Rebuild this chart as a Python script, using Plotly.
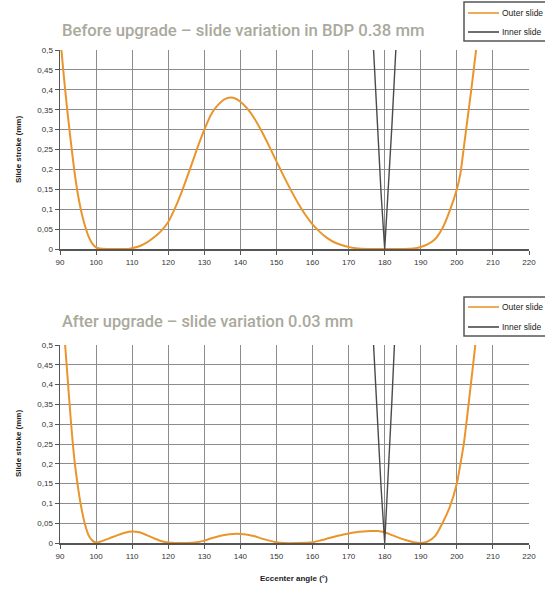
import plotly.graph_objects as go

W, H = 545, 590

# ---------------- data ----------------
x_ticks = [90, 100, 110, 120, 130, 140, 150, 160, 170, 180, 190, 200, 210, 220]
x_tick_labels = [str(v) for v in x_ticks]
y_ticks = [0, 0.05, 0.1, 0.15, 0.2, 0.25, 0.3, 0.35, 0.4, 0.45, 0.5]
y_tick_labels = ["0", "0,05", "0,1", "0,15", "0,2", "0,25", "0,3", "0,35", "0,4", "0,45", "0,5"]

before_outer_angle = [90, 91, 92, 93, 94, 95, 96, 97, 98, 99, 100, 101, 103, 105, 107, 109, 110,
                      112, 114, 116, 118, 120, 122, 124, 126, 128, 130, 132, 134, 136, 138,
                      140, 142, 144, 146, 148, 150, 152, 154, 156, 158, 160, 162, 164, 166, 168,
                      170, 172, 175, 180, 185, 188, 190, 192, 194, 196, 198, 200, 201, 202, 203,
                      204, 205, 206]
before_outer_stroke = [0.54, 0.44, 0.35, 0.27, 0.195, 0.135, 0.09, 0.056, 0.03, 0.013, 0.004, 0.001,
                       0.0, 0.0, 0.0, 0.0, 0.002,
                       0.007, 0.016, 0.029, 0.045, 0.068, 0.105, 0.15, 0.2, 0.252, 0.3, 0.34,
                       0.364, 0.378, 0.38,
                       0.37, 0.352, 0.326, 0.294, 0.258, 0.22, 0.183, 0.148, 0.115, 0.086,
                       0.062, 0.043, 0.028, 0.017, 0.01,
                       0.005, 0.002, 0.0, 0.0, 0.0, 0.001, 0.005, 0.012, 0.025, 0.052, 0.095,
                       0.15, 0.19, 0.26, 0.33,
                       0.40, 0.475, 0.55]

before_inner_angle = [176.8, 178.0, 179.0, 180.0, 181.0, 182.0, 183.2]
before_inner_stroke = [0.52, 0.30, 0.14, 0.0, 0.15, 0.31, 0.52]

after_outer_angle = [90, 91, 92, 93, 94, 95, 96, 97, 98, 99, 100, 102, 104, 106, 108, 110, 112,
                     114, 116, 118, 120, 122, 125, 128, 130, 132, 134, 136, 138, 140, 142, 144,
                     146, 148, 150, 152, 156, 160, 162, 164, 166, 168, 170, 172, 174, 176, 178,
                     180, 182, 184, 186, 188, 190, 192, 194, 196, 198, 200, 201, 202, 203, 204,
                     205, 206]
after_outer_stroke = [0.66, 0.55, 0.43, 0.31, 0.21, 0.14, 0.085, 0.045, 0.018, 0.006, 0.001,
                      0.006, 0.013, 0.02, 0.026, 0.029, 0.027,
                      0.02, 0.012, 0.005, 0.001, 0.0, 0.0, 0.002, 0.006, 0.012, 0.017, 0.021,
                      0.023, 0.023, 0.021, 0.017,
                      0.011, 0.006, 0.002, 0.0, 0.0, 0.002, 0.006, 0.011, 0.016, 0.02, 0.024,
                      0.027, 0.029, 0.03, 0.03,
                      0.027, 0.02, 0.013, 0.007, 0.002, 0.0, 0.004, 0.018, 0.05, 0.09, 0.15,
                      0.2, 0.255, 0.33, 0.41,
                      0.49, 0.58]

after_inner_angle = [176.8, 178.0, 179.0, 180.0, 181.0, 182.0, 182.8]
after_inner_stroke = [0.52, 0.30, 0.14, 0.0, 0.17, 0.36, 0.52]

titles = ["Before upgrade – slide variation in BDP 0.38 mm",
          "After upgrade – slide variation 0.03 mm"]
legend_names = ["Outer slide", "Inner slide"]
y_title = "Slide stroke (mm)"
x_title = "Eccenter angle (°)"

# ---------------- style ----------------
ORANGE = "#EA952B"
DARK = "#4a4a4a"
GRID = "#8c8c8c"
AXIS = "#555555"
TITLE_C = "#A9A99C"


def px(x):
    return x / W


def py(y):
    return 1 - y / H


fig = go.Figure()

fig.add_trace(go.Scatter(x=before_outer_angle, y=before_outer_stroke, mode="lines",
                         line=dict(color=ORANGE, width=2, shape="spline", smoothing=0.6),
                         xaxis="x", yaxis="y", showlegend=False, name=legend_names[0]))
fig.add_trace(go.Scatter(x=before_inner_angle, y=before_inner_stroke, mode="lines",
                         line=dict(color=DARK, width=1.4),
                         xaxis="x", yaxis="y", showlegend=False, name=legend_names[1]))
fig.add_trace(go.Scatter(x=after_outer_angle, y=after_outer_stroke, mode="lines",
                         line=dict(color=ORANGE, width=2, shape="spline", smoothing=0.6),
                         xaxis="x2", yaxis="y2", showlegend=False, name=legend_names[0]))
fig.add_trace(go.Scatter(x=after_inner_angle, y=after_inner_stroke, mode="lines",
                         line=dict(color=DARK, width=1.4),
                         xaxis="x2", yaxis="y2", showlegend=False, name=legend_names[1]))

tickfont = dict(family="Liberation Sans, Arial, sans-serif", size=8, color="#333333")

xcommon = dict(range=[90, 220], tickvals=x_ticks, ticktext=x_tick_labels,
               showgrid=True, gridcolor=GRID, gridwidth=1, zeroline=False,
               showline=True, linecolor=AXIS, linewidth=2,
               ticks="outside", ticklen=4, tickcolor=AXIS, tickwidth=1,
               tickfont=tickfont, fixedrange=True, automargin=False)
ycommon = dict(range=[0, 0.5], tickvals=y_ticks, ticktext=y_tick_labels,
               showgrid=True, gridcolor=GRID, gridwidth=1, zeroline=False,
               showline=True, linecolor=AXIS, linewidth=1.5,
               ticks="outside", ticklen=4, tickcolor=AXIS, tickwidth=1,
               tickfont=tickfont, fixedrange=True, automargin=False)

xdom = [px(60), px(529)]
fig.update_layout(
    template="none",
    width=W, height=H,
    margin=dict(l=0, r=0, t=0, b=0, pad=0),
    paper_bgcolor="white", plot_bgcolor="white",
    showlegend=False,
    xaxis=dict(domain=xdom, anchor="y", **xcommon),
    yaxis=dict(domain=[py(249), py(50)], anchor="x", **ycommon),
    xaxis2=dict(domain=xdom, anchor="y2", **xcommon),
    yaxis2=dict(domain=[py(543), py(345)], anchor="x2", **ycommon),
)

annotations = []
shapes = []

# titles
for t, yc, fs in zip(titles, [31, 322], [16.7, 16.4]):
    annotations.append(dict(text=t, x=px(60), y=py(yc), xref="paper", yref="paper",
                            xanchor="left", yanchor="middle", showarrow=False,
                            font=dict(family="Roboto", size=fs, color=TITLE_C, weight=500)))

# y titles
for yc in [150, 444]:
    annotations.append(dict(text=y_title, x=px(18), y=py(yc), xref="paper", yref="paper",
                            xanchor="center", yanchor="middle", showarrow=False, textangle=-90,
                            font=dict(family="Liberation Sans, Arial", size=8, color="#222222",
                                      weight="bold")))

# x title
annotations.append(dict(text=x_title, x=px(294), y=py(578), xref="paper", yref="paper",
                        xanchor="center", yanchor="middle", showarrow=False,
                        font=dict(family="Liberation Sans, Arial", size=8, color="#222222",
                                  weight="bold")))

# legends (boxes partly outside the page, as in the reference)
for top, bot, l1, l2 in [(2, 41, 13, 32), (297, 336, 307, 327)]:
    shapes.append(dict(type="rect", xref="paper", yref="paper",
                       x0=px(464), x1=px(580), y0=py(bot), y1=py(top),
                       line=dict(color="#555555", width=1.5), fillcolor="white"))
    for ly, col, name in [(l1, ORANGE, legend_names[0]), (l2, DARK, legend_names[1])]:
        shapes.append(dict(type="line", xref="paper", yref="paper",
                           x0=px(468), x1=px(499), y0=py(ly), y1=py(ly),
                           line=dict(color=col, width=1.6)))
        annotations.append(dict(text=name, x=px(500), y=py(ly), xref="paper", yref="paper",
                                xanchor="left", yanchor="middle", showarrow=False,
                                font=dict(family="Liberation Sans, Arial", size=8.5,
                                          color="#222222")))

fig.update_layout(annotations=annotations, shapes=shapes)

# remove the page's default body margin so the 545x590 figure fills the window exactly
fig.write_html("out.html",
               config={"displayModeBar": False, "staticPlot": True},
               post_script="document.body.style.margin='0';document.body.style.overflow='hidden';")
